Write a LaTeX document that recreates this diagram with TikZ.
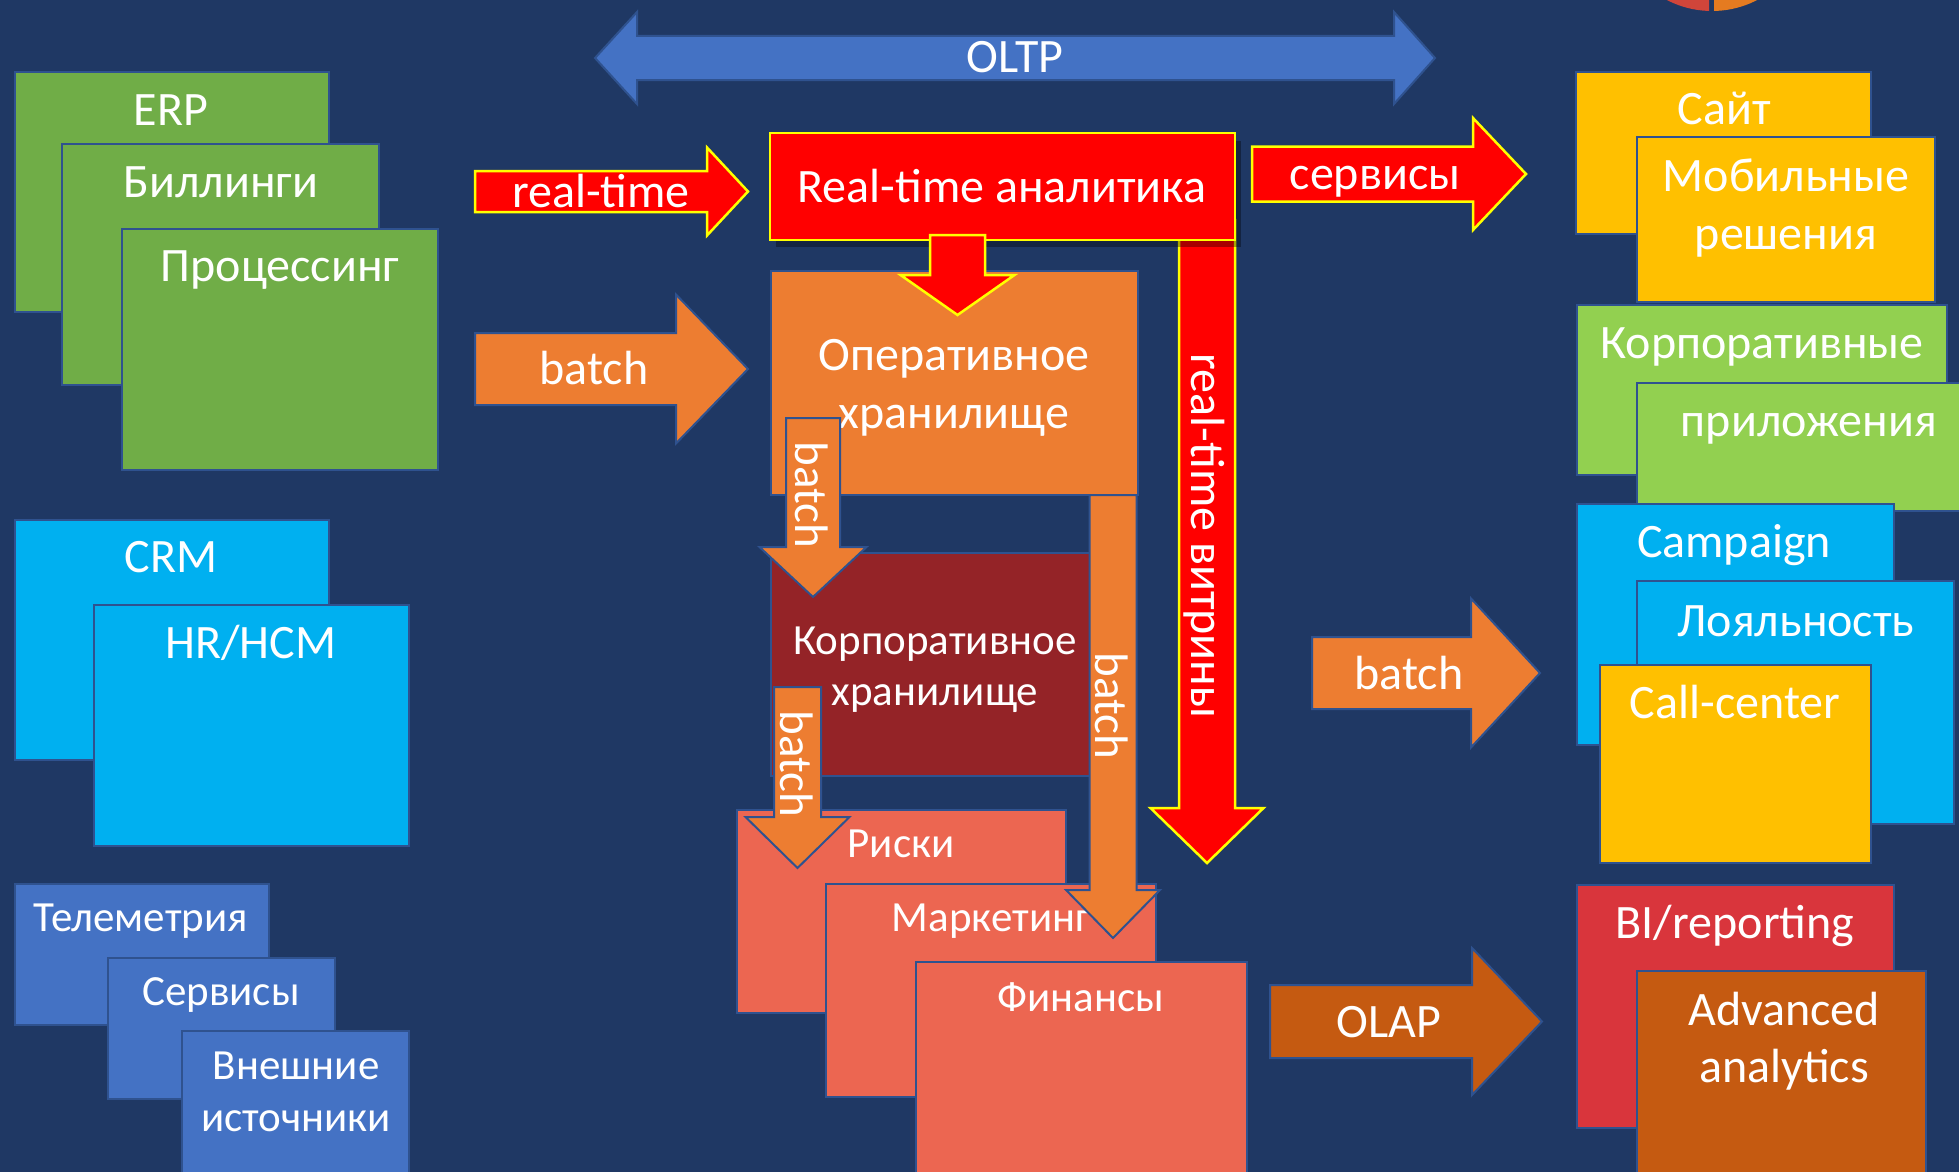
\documentclass[tikz,border=0pt]{standalone}
\usepackage{fontspec}
\setmainfont{Carlito}
\definecolor{bg}{HTML}{1F3864}
\definecolor{outl}{HTML}{2F528F}
\definecolor{cgreen}{HTML}{70AD47}
\definecolor{ccyan}{HTML}{00B0F0}
\definecolor{cblue}{HTML}{4472C4}
\definecolor{corange}{HTML}{ED7D31}
\definecolor{cdarkred}{HTML}{942327}
\definecolor{cred}{HTML}{FF0000}
\definecolor{cyellowl}{HTML}{FFFF00}
\definecolor{csalmon}{HTML}{EC6651}
\definecolor{clime}{HTML}{92D050}
\definecolor{cgold}{HTML}{FFC000}
\definecolor{cbired}{HTML}{D9353C}
\definecolor{cdorange}{HTML}{C55A11}
\definecolor{logored}{HTML}{D0453A}
\definecolor{logoorange}{HTML}{E57B20}
\newcommand{\boxr}[5]{\draw[box,fill=#1] (#2,#3) rectangle (#4,#5);}
% right arrow: style, x0, xbase, xtip, yc, shaft half, head half
\newcommand{\rarr}[7]{\draw[#1] (#2,#5-#6) -- (#3,#5-#6) -- (#3,#5-#7) -- (#4,#5) -- (#3,#5+#7) -- (#3,#5+#6) -- (#2,#5+#6) -- cycle;}
% down arrow: style, y0, ybase, ytip, xc, shaft half, head half
\newcommand{\darr}[7]{\draw[#1] (#5-#6,#2) -- (#5-#6,#3) -- (#5-#7,#3) -- (#5,#4) -- (#5+#7,#3) -- (#5+#6,#3) -- (#5+#6,#2) -- cycle;}
\tikzset{
  box/.style={draw=outl, line width=2pt},
  barr/.style={draw=outl, line width=2pt, line join=miter},
  yarr/.style={draw=cyellowl, line width=2.5pt, fill=cred, line join=miter},
  lbl/.style={text=white, font=\fontsize{48}{54}\selectfont, inner sep=0pt, anchor=base},
  sml/.style={lbl, font=\fontsize{43}{50}\selectfont},
  vlbl/.style={text=white, font=\fontsize{47}{54}\selectfont, inner sep=0pt, anchor=center, rotate=-90},
}
\begin{document}
\begin{tikzpicture}[x=1pt,y=-1pt]
\useasboundingbox (0,0) rectangle (1959,1172);
\clip (0,0) rectangle (1959,1172);
\fill[bg] (0,0) rectangle (1959,1172);
% logo
\begin{scope}
\clip (1600,0) rectangle (1709,30);
\fill[logored] (1712,-87) circle (98);
\end{scope}
\begin{scope}
\clip (1714,0) rectangle (1820,30);
\fill[logoorange] (1712,-87) circle (98);
\end{scope}
% left green group
\boxr{cgreen}{15}{72}{329}{312}
\node[lbl] (erp) at (171,125) {ERP};
\boxr{cgreen}{62}{144}{379}{385}
\node[lbl] (bill) at (221,197) {Биллинги};
\boxr{cgreen}{122}{229}{438}{470}
\node[lbl] (proc) at (280,281) {Процессинг};
% cyan group
\boxr{ccyan}{15}{520}{329}{760}
\node[lbl] (crm) at (171,572) {CRM};
\boxr{ccyan}{94}{605}{409}{846}
\node[lbl] (hr) at (251,658) {HR/HCM};
% blue group
\boxr{cblue}{15}{884}{269}{1025}
\node[sml] (tel) at (141,931) {Телеметрия};
\boxr{cblue}{108}{958}{335}{1099}
\node[sml] (serv) at (221,1005) {Сервисы};
\boxr{cblue}{182}{1031}{409}{1200}
\node[sml] (ext1) at (296,1079) {Внешние};
\node[sml] (ext2) at (296,1131) {источники};
% OLTP
\draw[barr, fill=cblue] (595,58) -- (637,12) -- (637,36) -- (1394,36) -- (1394,12) -- (1435,58) -- (1394,104) -- (1394,80) -- (637,80) -- (637,104) -- cycle;
\node[lbl] (oltp) at (1015,73) {OLTP};
% left arrows
\rarr{yarr}{475}{707}{748}{191.5}{20.5}{44}
\node[lbl] (rt) at (601,207) {real-time};
\rarr{barr,fill=corange}{475}{676}{748}{369}{36}{74.5}
\node[lbl] (batchl) at (594,384) {batch};
% real-time vitriny arrow
\darr{yarr}{220}{808}{863}{1207}{28}{56.5}
\node[vlbl, font=\fontsize{48}{54}\selectfont] (rtv) at (1204,536) {real-time витрины};
% operative storage
\boxr{corange}{771}{271}{1138}{495}
\node[lbl] (op1) at (954,370) {Оперативное};
\node[lbl] (op2) at (954,428) {хранилище};
% corporate storage
\boxr{cdarkred}{771}{553}{1091}{776}
\node[sml] (ks1) at (935,654) {Корпоративное};
\node[sml] (ks2) at (935,705) {хранилище};
% marts
\boxr{csalmon}{737}{810}{1066}{1013}
\node[sml] (risk) at (901,857) {Риски};
\boxr{csalmon}{826}{884}{1156}{1097}
\node[sml] (mark) at (991,931) {Маркетинг};
\darr{barr,fill=corange}{495}{890}{938}{1113}{23.5}{47}
\node[vlbl] (b3) at (1112,706) {batch};
\boxr{csalmon}{916}{962}{1247}{1200}
\node[sml] (fin) at (1081,1011) {Финансы};
% batch arrows down
\darr{barr,fill=corange}{418}{547}{597}{813}{27}{53.5}
\node[vlbl] (b1) at (812,495) {batch};
\darr{barr,fill=corange}{687}{817}{868}{797.5}{23.5}{52}
\node[vlbl] (b2) at (797,764) {batch};
% real-time analytics
\fill[black, opacity=0.35] (776,141) rectangle (1241,247);
\draw[yarr] (770,133) rectangle (1235,240);
\node[lbl] (rta) at (1002,202) {Real-time аналитика};
\darr{yarr}{235}{275}{315}{957.5}{27.5}{57}
% right arrows
\rarr{yarr}{1252}{1473}{1526}{174}{27.5}{56}
\node[lbl] (servr) at (1375,189) {сервисы};
\rarr{barr,fill=corange}{1312}{1471}{1540}{673}{36}{74.5}
\node[lbl] (batchr) at (1409,689) {batch};
\rarr{barr,fill=cdorange}{1270}{1472}{1542}{1021.5}{36.5}{73.5}
\node[lbl] (olap) at (1389,1037) {OLAP};
% right boxes
\boxr{cgold}{1576}{72}{1871}{234}
\node[lbl] (site) at (1724,124) {Сайт};
\boxr{cgold}{1637}{137}{1935}{302}
\node[lbl] (mob1) at (1786,191) {Мобильные};
\node[lbl] (mob2) at (1786,249) {решения};
\boxr{clime}{1577}{305}{1947}{475}
\node[lbl] (corp) at (1762,358) {Корпоративные};
\boxr{clime}{1637}{383}{1980}{511}
\node[lbl] (app) at (1809,436) {приложения};
\boxr{ccyan}{1577}{504}{1894}{745}
\node[lbl] (camp) at (1734,557) {Campaign};
\boxr{ccyan}{1637}{581}{1954}{824}
\node[lbl] (loy) at (1796,636) {Лояльность};
\boxr{cgold}{1600}{665}{1871}{863}
\node[lbl] (call) at (1735,718) {Call-center};
\boxr{cbired}{1577}{885}{1894}{1128}
\node[lbl] (bi) at (1735,938) {BI/reporting};
\boxr{cdorange}{1637}{971}{1926}{1200}
\node[lbl] (adv1) at (1784,1025) {Advanced};
\node[lbl] (adv2) at (1784,1082) {analytics};
\end{tikzpicture}
\end{document}
